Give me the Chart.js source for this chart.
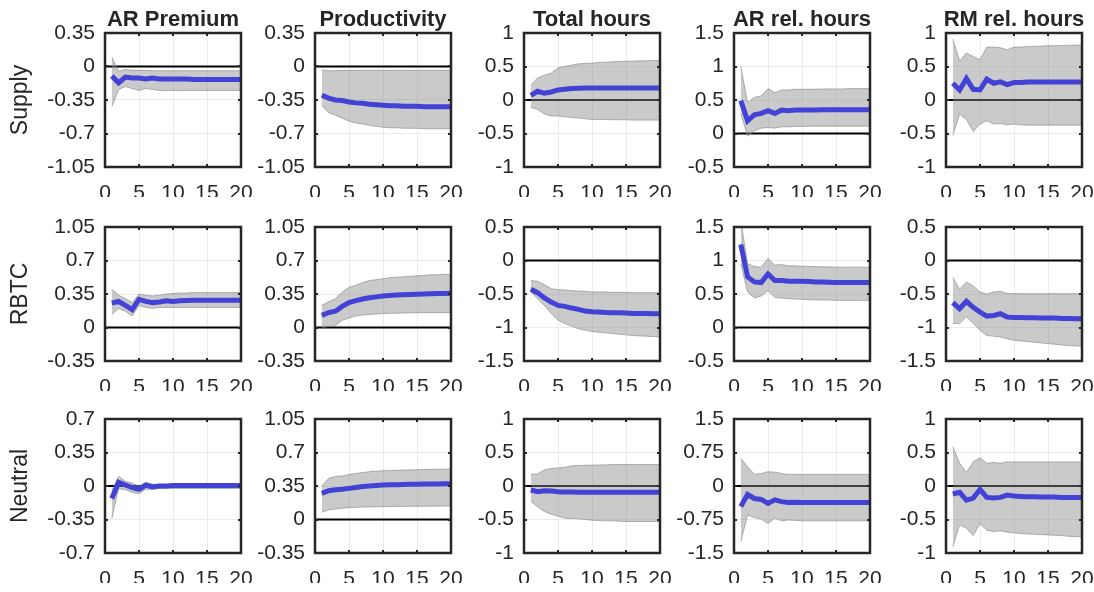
<!DOCTYPE html>
<html><head><meta charset="utf-8">
<script src="https://cdn.jsdelivr.net/npm/chart.js@4/dist/chart.umd.min.js"></script>
<style>
html,body{margin:0;padding:0;background:#fff;}
#wrap{position:relative;width:1094px;height:592px;overflow:hidden;}
#wrap canvas{position:absolute;left:0;top:0;}
</style></head><body><div id="wrap"></div>
<script>
// ---------- categories / labels ----------
const horizons = [1,2,3,4,5,6,7,8,9,10,11,12,13,14,15,16,17,18,19,20];
const xTicks = [0,5,10,15,20];
const colTitles = ['AR Premium','Productivity','Total hours','AR rel. hours','RM rel. hours'];
const rowTitles = ['Supply','RBTC','Neutral'];

// ---------- y tick sets ----------
const ticksA = [-1.05,-0.7,-0.35,0,0.35];
const ticksB = [-1,-0.5,0,0.5,1];
const ticksC = [-0.5,0,0.5,1,1.5];
const ticksD = [-0.35,0,0.35,0.7,1.05];
const ticksE = [-1.5,-1,-0.5,0,0.5];
const ticksF = [-0.7,-0.35,0,0.35,0.7];
const ticksG = [-1.5,-0.75,0,0.75,1.5];

// ---------- Supply ----------
const supPremMed = [-0.10,-0.17,-0.11,-0.12,-0.12,-0.13,-0.12,-0.13,-0.13,-0.13,-0.13,-0.13,-0.135,-0.135,-0.135,-0.135,-0.135,-0.135,-0.135,-0.135];
const supPremHi  = [0.10,-0.05,-0.03,-0.04,-0.04,-0.04,-0.045,-0.045,-0.045,-0.045,-0.045,-0.045,-0.045,-0.045,-0.045,-0.045,-0.045,-0.045,-0.045,-0.045];
const supPremLo  = [-0.42,-0.24,-0.21,-0.23,-0.25,-0.23,-0.24,-0.25,-0.25,-0.25,-0.25,-0.25,-0.25,-0.25,-0.25,-0.25,-0.25,-0.25,-0.25,-0.25];

const supProdMed = [-0.30,-0.33,-0.35,-0.355,-0.37,-0.38,-0.385,-0.395,-0.40,-0.405,-0.41,-0.41,-0.415,-0.415,-0.415,-0.42,-0.42,-0.42,-0.42,-0.42];
const supProdHi  = [-0.035,-0.045,-0.045,-0.04,-0.04,-0.04,-0.04,-0.04,-0.04,-0.04,-0.04,-0.04,-0.04,-0.04,-0.04,-0.04,-0.04,-0.04,-0.04,-0.04];
const supProdLo  = [-0.41,-0.48,-0.51,-0.54,-0.57,-0.59,-0.60,-0.615,-0.625,-0.635,-0.64,-0.64,-0.645,-0.645,-0.645,-0.65,-0.65,-0.65,-0.65,-0.65];

const supHoursMed = [0.07,0.13,0.10,0.12,0.15,0.16,0.17,0.175,0.18,0.18,0.18,0.18,0.18,0.18,0.18,0.18,0.18,0.18,0.18,0.18];
const supHoursHi  = [0.22,0.33,0.37,0.40,0.48,0.50,0.52,0.54,0.545,0.55,0.56,0.565,0.57,0.575,0.58,0.58,0.585,0.585,0.59,0.59];
const supHoursLo  = [-0.11,-0.14,-0.21,-0.24,-0.24,-0.25,-0.26,-0.27,-0.28,-0.29,-0.29,-0.29,-0.295,-0.295,-0.295,-0.30,-0.30,-0.30,-0.30,-0.30];

const supArRelMed = [0.49,0.19,0.28,0.30,0.34,0.30,0.35,0.34,0.35,0.35,0.35,0.35,0.355,0.355,0.355,0.355,0.355,0.355,0.355,0.355];
const supArRelHi  = [1.0,0.46,0.54,0.56,0.67,0.61,0.65,0.65,0.66,0.66,0.66,0.66,0.665,0.665,0.665,0.665,0.67,0.67,0.67,0.67];
const supArRelLo  = [0.30,-0.04,0.04,0.08,0.09,0.08,0.10,0.10,0.105,0.105,0.11,0.11,0.11,0.11,0.11,0.11,0.11,0.11,0.11,0.11];

const supRmRelMed = [0.25,0.15,0.32,0.16,0.15,0.31,0.25,0.27,0.23,0.26,0.26,0.27,0.27,0.27,0.27,0.27,0.27,0.27,0.27,0.27];
const supRmRelHi  = [0.91,0.58,0.70,0.65,0.60,0.79,0.79,0.78,0.75,0.79,0.79,0.80,0.80,0.805,0.81,0.81,0.815,0.815,0.82,0.82];
const supRmRelLo  = [-0.53,-0.21,-0.29,-0.47,-0.36,-0.31,-0.36,-0.35,-0.37,-0.36,-0.37,-0.375,-0.375,-0.375,-0.375,-0.375,-0.375,-0.375,-0.375,-0.375];

// ---------- RBTC ----------
const rbtcPremMed = [0.256,0.273,0.23,0.186,0.294,0.273,0.26,0.266,0.28,0.273,0.28,0.282,0.284,0.284,0.284,0.284,0.284,0.284,0.284,0.284];
const rbtcPremHi  = [0.40,0.34,0.30,0.26,0.35,0.336,0.33,0.336,0.35,0.355,0.36,0.36,0.365,0.365,0.365,0.365,0.365,0.365,0.365,0.365];
const rbtcPremLo  = [0.134,0.20,0.17,0.12,0.23,0.21,0.20,0.21,0.21,0.21,0.21,0.21,0.21,0.21,0.21,0.21,0.21,0.21,0.21,0.21];

const rbtcProdMed = [0.127,0.155,0.17,0.22,0.26,0.28,0.298,0.31,0.32,0.33,0.335,0.34,0.342,0.345,0.347,0.35,0.352,0.354,0.356,0.357];
const rbtcProdHi  = [0.23,0.27,0.30,0.37,0.42,0.44,0.47,0.49,0.50,0.51,0.52,0.525,0.53,0.535,0.54,0.545,0.55,0.55,0.555,0.555];
const rbtcProdLo  = [0.0,0.01,0.02,0.075,0.10,0.12,0.13,0.137,0.14,0.145,0.148,0.15,0.152,0.153,0.155,0.155,0.155,0.155,0.155,0.155];

const rbtcHoursMed = [-0.43,-0.48,-0.56,-0.62,-0.67,-0.685,-0.71,-0.73,-0.755,-0.765,-0.77,-0.775,-0.78,-0.78,-0.785,-0.79,-0.79,-0.79,-0.795,-0.795];
const rbtcHoursHi  = [-0.30,-0.31,-0.36,-0.42,-0.435,-0.44,-0.45,-0.455,-0.46,-0.47,-0.47,-0.47,-0.475,-0.475,-0.475,-0.48,-0.48,-0.48,-0.48,-0.48];
const rbtcHoursLo  = [-0.47,-0.57,-0.67,-0.79,-0.89,-0.94,-0.98,-1.02,-1.04,-1.06,-1.07,-1.08,-1.09,-1.10,-1.11,-1.12,-1.125,-1.13,-1.135,-1.14];

const rbtcArRelMed = [1.24,0.755,0.68,0.67,0.80,0.70,0.70,0.69,0.69,0.69,0.685,0.68,0.68,0.675,0.67,0.67,0.67,0.67,0.67,0.67];
const rbtcArRelHi  = [1.60,0.95,0.91,0.90,1.03,0.93,0.94,0.92,0.92,0.915,0.91,0.91,0.905,0.905,0.90,0.90,0.90,0.90,0.90,0.90];
const rbtcArRelLo  = [0.95,0.53,0.44,0.47,0.55,0.45,0.44,0.43,0.425,0.42,0.415,0.41,0.41,0.41,0.405,0.405,0.405,0.405,0.405,0.405];

const rbtcRmRelMed = [-0.63,-0.72,-0.61,-0.70,-0.77,-0.83,-0.82,-0.795,-0.845,-0.85,-0.85,-0.855,-0.855,-0.86,-0.86,-0.86,-0.865,-0.865,-0.87,-0.87];
const rbtcRmRelHi  = [-0.25,-0.43,-0.32,-0.38,-0.47,-0.50,-0.47,-0.46,-0.49,-0.495,-0.495,-0.495,-0.495,-0.495,-0.495,-0.495,-0.495,-0.495,-0.495,-0.495];
const rbtcRmRelLo  = [-0.94,-0.94,-0.84,-0.94,-1.04,-1.12,-1.13,-1.14,-1.17,-1.19,-1.20,-1.21,-1.22,-1.23,-1.24,-1.25,-1.26,-1.27,-1.275,-1.28];

// ---------- Neutral ----------
const neuPremMed = [-0.13,0.04,0.01,-0.017,-0.035,0.01,-0.01,0.0,0.0,0.005,0.005,0.005,0.005,0.005,0.005,0.005,0.005,0.005,0.005,0.005];
const neuPremHi  = [-0.05,0.10,0.05,0.03,0.0,0.035,0.02,0.015,0.015,0.015,0.015,0.015,0.015,0.015,0.015,0.015,0.015,0.015,0.015,0.015];
const neuPremLo  = [-0.34,-0.03,-0.04,-0.066,-0.08,-0.035,-0.035,-0.025,-0.025,-0.025,-0.025,-0.025,-0.025,-0.025,-0.025,-0.025,-0.025,-0.025,-0.025,-0.025];

const neuProdMed = [0.273,0.30,0.31,0.315,0.325,0.335,0.345,0.35,0.355,0.36,0.362,0.364,0.366,0.367,0.368,0.37,0.371,0.372,0.373,0.374];
const neuProdHi  = [0.35,0.43,0.45,0.455,0.47,0.48,0.49,0.50,0.505,0.51,0.512,0.514,0.516,0.518,0.52,0.522,0.524,0.525,0.526,0.527];
const neuProdLo  = [0.075,0.10,0.11,0.117,0.124,0.127,0.13,0.131,0.133,0.134,0.135,0.136,0.137,0.138,0.138,0.139,0.139,0.14,0.14,0.14];

const neuHoursMed = [-0.06,-0.085,-0.07,-0.075,-0.085,-0.088,-0.09,-0.092,-0.094,-0.095,-0.095,-0.095,-0.095,-0.095,-0.095,-0.095,-0.095,-0.095,-0.095,-0.095];
const neuHoursHi  = [0.175,0.18,0.24,0.26,0.27,0.28,0.30,0.305,0.31,0.31,0.315,0.315,0.32,0.32,0.32,0.32,0.32,0.32,0.32,0.32];
const neuHoursLo  = [-0.23,-0.31,-0.38,-0.42,-0.45,-0.48,-0.485,-0.49,-0.50,-0.51,-0.515,-0.52,-0.52,-0.525,-0.53,-0.53,-0.53,-0.53,-0.53,-0.53];

const neuArRelMed = [-0.46,-0.19,-0.28,-0.30,-0.39,-0.31,-0.35,-0.37,-0.365,-0.37,-0.37,-0.37,-0.37,-0.37,-0.37,-0.37,-0.37,-0.37,-0.37,-0.37];
const neuArRelHi  = [0.62,0.43,0.26,0.28,0.32,0.31,0.28,0.26,0.26,0.26,0.26,0.26,0.26,0.26,0.26,0.26,0.26,0.26,0.26,0.26];
const neuArRelLo  = [-1.25,-0.65,-0.71,-0.74,-0.84,-0.72,-0.78,-0.76,-0.77,-0.78,-0.78,-0.78,-0.78,-0.78,-0.78,-0.78,-0.78,-0.78,-0.78,-0.78];

const neuRmRelMed = [-0.12,-0.095,-0.21,-0.18,-0.05,-0.17,-0.18,-0.17,-0.135,-0.15,-0.155,-0.16,-0.16,-0.165,-0.165,-0.165,-0.17,-0.17,-0.17,-0.17];
const neuRmRelHi  = [0.59,0.34,0.20,0.36,0.42,0.34,0.35,0.34,0.36,0.36,0.36,0.36,0.36,0.36,0.36,0.36,0.36,0.36,0.36,0.36];
const neuRmRelLo  = [-0.91,-0.58,-0.63,-0.74,-0.56,-0.66,-0.68,-0.67,-0.69,-0.70,-0.71,-0.715,-0.72,-0.725,-0.73,-0.735,-0.74,-0.75,-0.755,-0.76];

// ---------- panel table (built from the arrays above) ----------
const panels = [
  [[supPremMed,supPremHi,supPremLo,ticksA],[supProdMed,supProdHi,supProdLo,ticksA],[supHoursMed,supHoursHi,supHoursLo,ticksB],[supArRelMed,supArRelHi,supArRelLo,ticksC],[supRmRelMed,supRmRelHi,supRmRelLo,ticksB]],
  [[rbtcPremMed,rbtcPremHi,rbtcPremLo,ticksD],[rbtcProdMed,rbtcProdHi,rbtcProdLo,ticksD],[rbtcHoursMed,rbtcHoursHi,rbtcHoursLo,ticksE],[rbtcArRelMed,rbtcArRelHi,rbtcArRelLo,ticksC],[rbtcRmRelMed,rbtcRmRelHi,rbtcRmRelLo,ticksE]],
  [[neuPremMed,neuPremHi,neuPremLo,ticksF],[neuProdMed,neuProdHi,neuProdLo,ticksD],[neuHoursMed,neuHoursHi,neuHoursLo,ticksB],[neuArRelMed,neuArRelHi,neuArRelLo,ticksG],[neuRmRelMed,neuRmRelHi,neuRmRelLo,ticksB]]
];

// ---------- layout & style ----------
const W = 1094, H = 592;
const colLeft = [105,315,524,734,946];
const rowTop = [33,227,419];
const plotW = 136, plotH = 134;
const yAxisW = 70, xAxisH = 30;
const FONT = "'Liberation Sans', Arial, Helvetica, sans-serif";
const TXT = '#262626';
const BLUE = 'rgb(66,66,214)';
const BAND = 'rgba(140,140,140,0.46)';
const BAND_EDGE = 'rgba(130,130,130,0.6)';

const pts = arr => horizons.map((h,i)=>({x:h, y:arr[i]}));

const decoPlugin = {
  id: 'deco',
  afterDatasetsDraw(chart, args, opts) {
    const {ctx, chartArea:a} = chart;
    ctx.save();
    ctx.strokeStyle = TXT;
    ctx.lineWidth = 2;
    ctx.beginPath();
    const xs = chart.scales.x, ys = chart.scales.y;
    xTicks.forEach(v => {
      const px = Math.round(xs.getPixelForValue(v));
      ctx.moveTo(px, a.bottom); ctx.lineTo(px, a.bottom - 3);
      ctx.moveTo(px, a.top); ctx.lineTo(px, a.top + 3);
    });
    opts.yTicks.forEach(v => {
      const py = Math.round(ys.getPixelForValue(v));
      ctx.moveTo(a.left, py); ctx.lineTo(a.left + 3, py);
      ctx.moveTo(a.right, py); ctx.lineTo(a.right - 3, py);
    });
    ctx.stroke();
    ctx.lineWidth = 2.5;
    ctx.strokeRect(a.left, a.top, a.right - a.left, a.bottom - a.top);
    ctx.restore();
  },
  afterDraw(chart, args, opts) {
    const {ctx, chartArea:a} = chart;
    ctx.save();
    ctx.fillStyle = TXT;
    if (opts.title) {
      ctx.font = 'bold 22px ' + FONT;
      ctx.textAlign = 'center';
      ctx.textBaseline = 'alphabetic';
      ctx.fillText(opts.title, (a.left + a.right) / 2, a.top - 7);
    }
    if (opts.rowLabel) {
      ctx.font = '23px ' + FONT;
      ctx.translate(27, (a.top + a.bottom) / 2);
      ctx.rotate(-Math.PI / 2);
      ctx.textAlign = 'center';
      ctx.textBaseline = 'alphabetic';
      ctx.fillText(opts.rowLabel, 0, 0);
    }
    ctx.restore();
  }
};

const wrap = document.getElementById('wrap');
panels.forEach((row, r) => {
  row.forEach((p, c) => {
    const [med, hi, lo, yTicks] = p;
    const cv = document.createElement('canvas');
    cv.width = W; cv.height = H;
    cv.style.width = W + 'px'; cv.style.height = H + 'px';
    wrap.appendChild(cv);
    const L = colLeft[c], T = rowTop[r];
    new Chart(cv, {
      type: 'line',
      data: {
        datasets: [
          { data: pts(med), borderColor: BLUE, borderWidth: 5, pointRadius: 0, fill: false, tension: 0 },
          { data: pts(hi), borderColor: BAND_EDGE, borderWidth: 1, pointRadius: 0, fill: '+1', backgroundColor: BAND, tension: 0 },
          { data: pts(lo), borderColor: BAND_EDGE, borderWidth: 1, pointRadius: 0, fill: false, tension: 0 },
          { data: [{x:0,y:0},{x:20,y:0}], borderColor: '#000', borderWidth: 2, pointRadius: 0, fill: false }
        ]
      },
      options: {
        responsive: false,
        animation: false,
        events: [],
        devicePixelRatio: 1,
        layout: { padding: { left: L - yAxisW, top: T, right: W - (L + plotW), bottom: H - (T + plotH) - xAxisH } },
        plugins: {
          legend: { display: false },
          tooltip: { enabled: false },
          title: { display: false },
          deco: { yTicks: yTicks, title: r === 0 ? colTitles[c] : null, rowLabel: c === 0 ? rowTitles[r] : null }
        },
        scales: {
          x: {
            type: 'linear', min: 0, max: 20,
            afterBuildTicks: s => { s.ticks = xTicks.map(v => ({ value: v })); },
            afterFit: s => { s.height = xAxisH; s.paddingLeft = 0; s.paddingRight = 0; },
            grid: { color: '#ebebeb', lineWidth: 1, drawTicks: false },
            border: { display: false },
            ticks: { autoSkip: false, maxRotation: 0, minRotation: 0, padding: 14, color: TXT, font: { family: FONT, size: 21 }, callback: v => String(v) }
          },
          y: {
            type: 'linear', min: yTicks[0], max: yTicks[yTicks.length - 1],
            afterBuildTicks: s => { s.ticks = yTicks.map(v => ({ value: v })); },
            afterFit: s => { s.width = yAxisW; s.paddingTop = 0; s.paddingBottom = 0; },
            grid: { color: '#ebebeb', lineWidth: 1, drawTicks: false },
            border: { display: false },
            ticks: { autoSkip: false, padding: 10, color: TXT, font: { family: FONT, size: 21 }, callback: v => String(v) }
          }
        }
      },
      plugins: [decoPlugin]
    });
  });
});
</script>
</body></html>
